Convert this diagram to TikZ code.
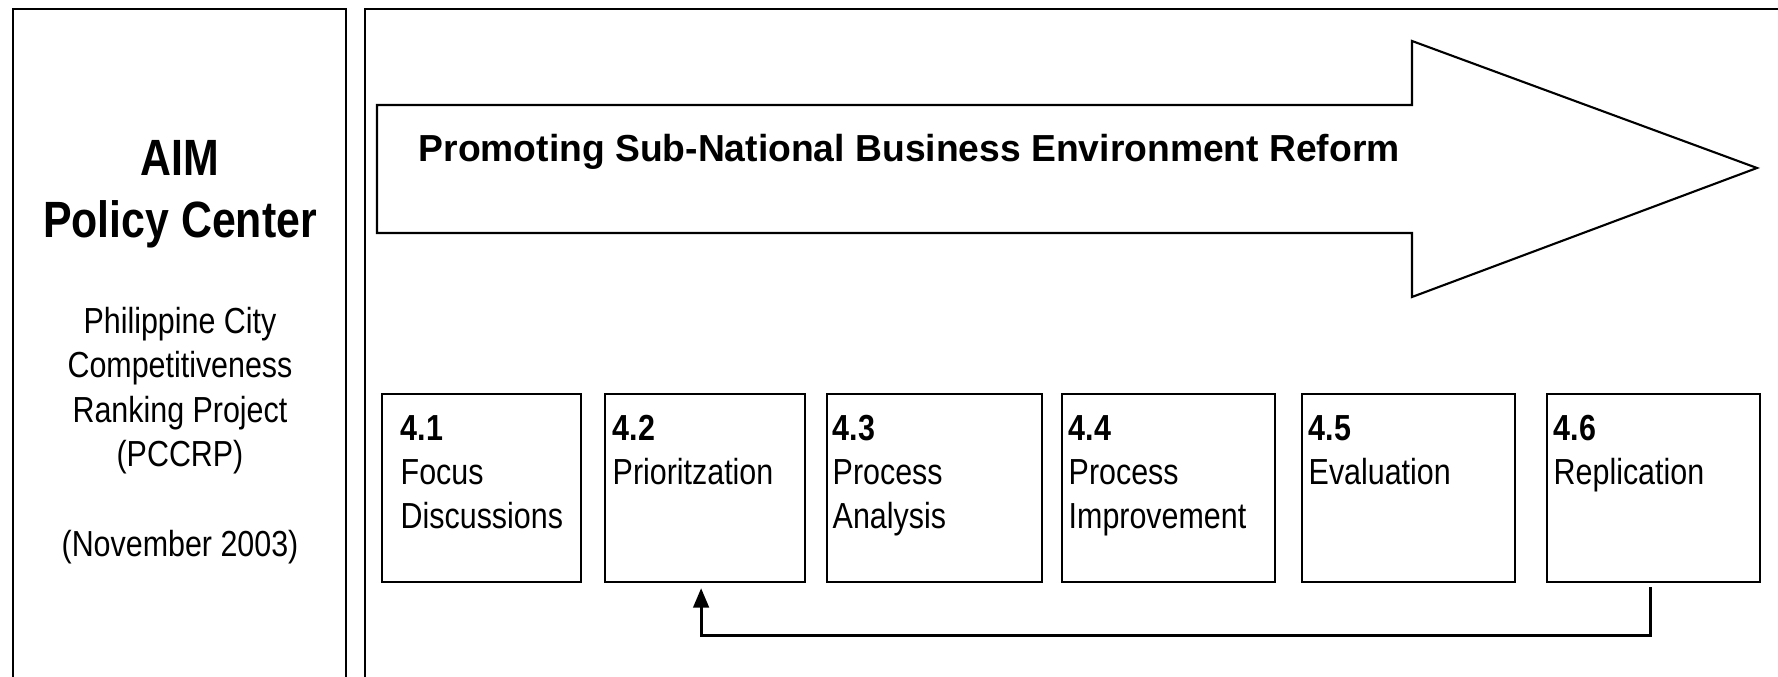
\documentclass[tikz,border=0pt]{standalone}
\usepackage{fontspec}
\setmainfont{Liberation Sans}
\newfontfamily\narrowsans[FakeStretch=0.84]{Liberation Sans}
\newfontfamily\titlesans[FakeStretch=0.99]{Liberation Sans}
\usetikzlibrary{arrows.meta,calc}

\tikzset{
  panel/.style={draw=black, line width=0.6pt},
  stepbox/.style={draw=black, line width=0.6pt, rectangle, anchor=north west,
    minimum height=1.88cm, inner sep=0pt},
  steptext/.style={anchor=base west, inner sep=0pt, align=left,
    font=\narrowsans\fontsize{10.3}{12.65}\selectfont},
  headtext/.style={inner sep=0pt, align=center,
    font=\narrowsans\bfseries\fontsize{14.5}{17.9}\selectfont},
  subtext/.style={inner sep=0pt, align=center,
    font=\narrowsans\fontsize{10.3}{12.7}\selectfont},
  titletext/.style={anchor=base west, inner sep=0pt,
    font=\titlesans\bfseries\fontsize{10.7}{13}\selectfont},
  bigarrow/.style={draw=black, line width=0.6pt, line join=miter},
  feedback/.style={draw=black, line width=0.8pt,
    -{Triangle[length=5.5pt,width=4.4pt]}},
}

\begin{document}
\begin{tikzpicture}[x=0.01cm, y=-0.01cm]
\useasboundingbox (0,0) rectangle (1778,677);
\fill[white] (0,0) rectangle (1778,677);

% outer panels, open towards the lower and right edges
\draw[panel] (13,700) -- (13,9) -- (346,9) -- (346,700);
\draw[panel] (365,700) -- (365,9) -- (1800,9);

% left panel texts (base anchor = baseline of the last line)
\node[headtext, anchor=base] (aim) at (180,238) {AIM\\Policy Center};
\node[subtext, anchor=base] (proj) at (180,467)
  {Philippine City\\Competitiveness\\Ranking Project\\(PCCRP)};
\node[subtext, anchor=base] (date) at (180,557) {(November 2003)};

% block arrow with the programme title
\draw[bigarrow] (377,105) -- (1412,105) -- (1412,41) -- (1757,168)
  -- (1412,297) -- (1412,233) -- (377,233) -- cycle;
\node[titletext] (title) at (418,162)
  {Promoting Sub-National Business Environment Reform};

% the six steps
\node[stepbox, minimum width=1.99cm] (s1) at (381,393) {};
\node[stepbox, minimum width=2.00cm] (s2) at (604,393) {};
\node[stepbox, minimum width=2.15cm] (s3) at (826,393) {};
\node[stepbox, minimum width=2.13cm] (s4) at (1061,393) {};
\node[stepbox, minimum width=2.13cm] (s5) at (1301,393) {};
\node[stepbox, minimum width=2.13cm] (s6) at (1546,393) {};

% step labels, placed by the baseline of their last line
\node[steptext] (t1) at ($(s1.north west)+(19,136)$) {\textbf{4.1}\\Focus\\Discussions};
\node[steptext] (t2) at ($(s2.north west)+(8,91.5)$) {\textbf{4.2}\\Prioritzation};
\node[steptext] (t3) at ($(s3.north west)+(6,136)$) {\textbf{4.3}\\Process\\Analysis};
\node[steptext] (t4) at ($(s4.north west)+(7,136)$) {\textbf{4.4}\\Process\\Improvement};
\node[steptext] (t5) at ($(s5.north west)+(7,91.5)$) {\textbf{4.5}\\Evaluation};
\node[steptext] (t6) at ($(s6.north west)+(7,91.5)$) {\textbf{4.6}\\Replication};

% feedback loop from replication back to prioritization
\coordinate (fbstart) at ($(s6.south)+(-3,4)$);
\coordinate (fbturn) at ($(s6.south)+(-3,52)$);
\coordinate (fbend) at ($(s2.south)+(-4,5)$);
\draw[feedback] (fbstart) -- (fbturn) -| (fbend);
\end{tikzpicture}
\end{document}
